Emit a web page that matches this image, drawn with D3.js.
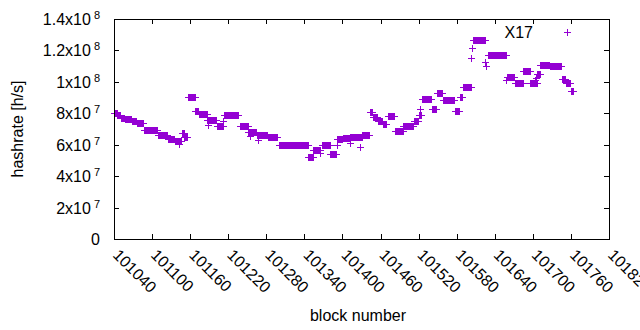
<!DOCTYPE html>
<html>
<head>
<meta charset="utf-8">
<script src="https://cdn.jsdelivr.net/npm/d3@7"></script>
<style>
  body { margin: 0; background: #fff; }
  svg { display: block; font-family: "Liberation Sans", Arial, sans-serif; }
</style>
</head>
<body>
<div id="chart"></div>
<script>
// runs of consecutive blocks that share one hashrate value (units of 1e6 h/s)
const runStart = [101040, 101045, 101051, 101057, 101068, 101076, 101087, 101109, 101125, 101136,
  101147, 101151, 101157, 101168, 101174, 101187, 101202, 101213, 101239, 101251,
  101265, 101283, 101300, 101346, 101354, 101368, 101380, 101391, 101401, 101412,
  101431, 101443, 101448, 101456, 101464, 101472, 101483, 101496, 101512, 101520,
  101525, 101541, 101549, 101558, 101577, 101585, 101590, 101606, 101629, 101659,
  101672, 101685, 101696, 101707, 101711, 101727, 101746, 101752, 101760];
const runCount = [5, 6, 6, 11, 8, 11, 22, 16, 11, 11,
  4, 5, 11, 6, 13, 14, 10, 24, 13, 14,
  17, 15, 46, 8, 11, 13, 11, 9, 11, 19,
  12, 4, 8, 8, 6, 11, 13, 16, 8, 5,
  16, 8, 9, 19, 8, 5, 14, 19, 30, 13,
  13, 11, 11, 5, 16, 19, 6, 7, 5];
const runRate = [80.2, 78.7, 77.3, 76.4, 75.4, 73.8, 69.4, 65.9, 63.6, 62.4,
  67.5, 65.0, 90.4, 81.5, 79.5, 76.0, 72.0, 79.0, 72.0, 67.8,
  66.5, 65.2, 60.1, 52.2, 56.9, 60.1, 54.4, 63.6, 64.3, 64.9,
  66.2, 80.8, 77.6, 75.1, 72.9, 78.3, 68.7, 71.6, 74.8, 78.9,
  89.4, 83.0, 92.9, 88.5, 81.5, 90.4, 97.0, 126.6, 117.1, 103.4,
  99.0, 106.9, 99.0, 105.3, 110.7, 109.8, 101.8, 99.3, 94.2];

// stray single blocks
const singleBlock = [101142, 101188, 101212, 101254, 101267, 101364, 101391, 101412, 101428,
  101522, 101603, 101604, 101625, 101626, 101658, 101704, 101705];
const singleRate = [60.5, 72.5, 75.0, 65.5, 63.0, 54.7, 59.8, 61.1, 58.5,
  82.7, 115.2, 121.5, 112.6, 110.1, 101.2, 101.2, 102.5];

const xTickValues = [101040, 101100, 101160, 101220, 101280, 101340, 101400,
  101460, 101520, 101580, 101640, 101700, 101760, 101820];
const yTickValues = [0, 2e7, 4e7, 6e7, 8e7, 1e8, 1.2e8, 1.4e8];
const yTickMant = ["0", "2x10", "4x10", "6x10", "8x10", "1x10", "1.2x10", "1.4x10"];
const yTickExp = ["", "7", "7", "7", "7", "8", "8", "8"];

const seriesName = "X17";
const color = "#9400d3";

const width = 640, height = 330;
const margin = { left: 114, right: 31, top: 19, bottom: 91 };

const points = [];
runStart.forEach((b, i) => {
  for (let k = 0; k < runCount[i]; k++) points.push({ block: b + k, rate: runRate[i] * 1e6 });
});
singleBlock.forEach((b, i) => points.push({ block: b, rate: singleRate[i] * 1e6 }));

const svg = d3.select("#chart").append("svg")
  .attr("width", width)
  .attr("height", height);

const x = d3.scaleLinear()
  .domain([101040, 101820])
  .range([margin.left, width - margin.right]);
const y = d3.scaleLinear()
  .domain([0, 1.4e8])
  .range([height - margin.bottom, margin.top]);

const x0 = x.range()[0], x1 = x.range()[1];
const y0 = y.range()[0], y1 = y.range()[1];
const tickLen = 5;

// ticks, mirrored on all four sides
const ticks = svg.append("g").attr("stroke", "#000").attr("stroke-width", 1);
xTickValues.forEach(v => {
  const px = Math.round(x(v)) + 0.5;
  ticks.append("line").attr("x1", px).attr("x2", px).attr("y1", y0).attr("y2", y0 - tickLen);
  ticks.append("line").attr("x1", px).attr("x2", px).attr("y1", y1).attr("y2", y1 + tickLen);
});
yTickValues.forEach(v => {
  const py = Math.round(y(v)) + 0.5;
  ticks.append("line").attr("x1", x0).attr("x2", x0 + tickLen).attr("y1", py).attr("y2", py);
  ticks.append("line").attr("x1", x1).attr("x2", x1 - tickLen).attr("y1", py).attr("y2", py);
});

// points, gnuplot "+" markers
svg.append("g")
  .selectAll("path")
  .data(points)
  .enter()
  .append("path")
  .attr("fill", "none")
  .attr("stroke", color)
  .attr("stroke-width", 1)
  .attr("d", d => {
    const px = Math.round(x(d.block)), py = Math.round(y(d.rate));
    return `M${px - 3},${py + 0.5}h7M${px + 0.5},${py - 3}v7`;
  });

// border
svg.append("rect")
  .attr("x", x0 + 0.5)
  .attr("y", y1 + 0.5)
  .attr("width", x1 - x0)
  .attr("height", y0 - y1)
  .attr("fill", "none")
  .attr("stroke", "#000")
  .attr("stroke-width", 1);

// y tick labels with superscript exponents
const yLab = svg.append("g").attr("font-size", 16).attr("fill", "#000");
yTickValues.forEach((v, i) => {
  const t = yLab.append("text")
    .attr("x", 100)
    .attr("y", y(v) + 6)
    .attr("text-anchor", "end");
  t.append("tspan").text(yTickMant[i]);
  if (yTickExp[i]) {
    t.append("tspan")
      .attr("font-size", 11)
      .attr("dx", 3)
      .attr("dy", -6)
      .text(yTickExp[i]);
  }
});

// rotated x tick labels
svg.append("g")
  .attr("font-size", 16)
  .selectAll("text")
  .data(xTickValues)
  .enter()
  .append("text")
  .attr("transform", d => `translate(${x(d) - 2},${y0 + 17}) rotate(45)`)
  .text(d => d);

// axis titles
svg.append("text")
  .attr("font-size", 16)
  .attr("text-anchor", "middle")
  .attr("x", 358)
  .attr("y", 321)
  .text("block number");

svg.append("text")
  .attr("font-size", 16)
  .attr("text-anchor", "middle")
  .attr("transform", `translate(23,${(y0 + y1) / 2}) rotate(-90)`)
  .text("hashrate [h/s]");

// key
svg.append("text")
  .attr("font-size", 16)
  .attr("text-anchor", "end")
  .attr("x", 533)
  .attr("y", 38)
  .text(seriesName);
svg.append("path")
  .attr("fill", "none")
  .attr("stroke", color)
  .attr("d", "M564,32.5h7M567.5,29v7");
</script>
</body>
</html>
